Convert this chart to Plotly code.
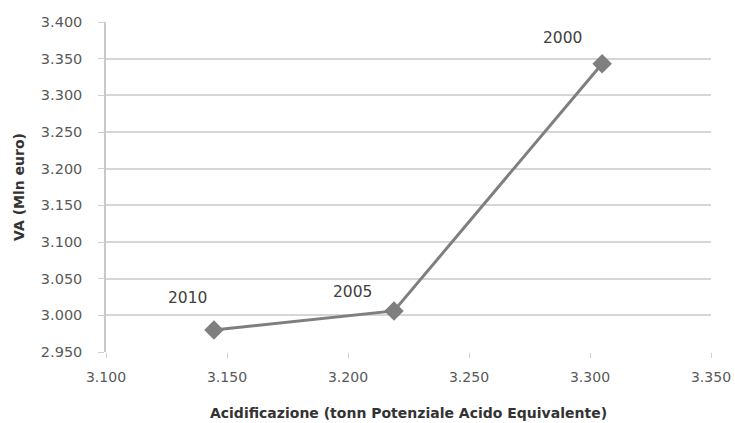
import plotly.graph_objects as go

# dati
anni = ["2010", "2005", "2000"]
acidificazione = [3144.6, 3219, 3305]
va_mln_euro = [2980, 3006, 3343]

x_ticks = [3100, 3150, 3200, 3250, 3300, 3350]
y_ticks = [2950, 3000, 3050, 3100, 3150, 3200, 3250, 3300, 3350, 3400]

# spostamento etichette (pixel)
label_shift = [(-26, 32), (-41, 19), (-40, 26)]

fig = go.Figure()
fig.add_trace(
    go.Scatter(
        x=acidificazione,
        y=va_mln_euro,
        mode="lines+markers",
        line=dict(color="#7f7f7f", width=3),
        marker=dict(symbol="diamond", size=15, color="#7f7f7f"),
        hoverinfo="x+y",
    )
)

for anno, xv, yv, (dx, dy) in zip(anni, acidificazione, va_mln_euro, label_shift):
    fig.add_annotation(
        x=xv, y=yv, text=anno, showarrow=False,
        xshift=dx, yshift=dy,
        font=dict(size=15.5, color="#404040"),
    )

font_fam = "DejaVu Sans, sans-serif"
fig.update_layout(
    width=735,
    height=423,
    margin=dict(l=106, r=24, t=22, b=71),
    paper_bgcolor="white",
    plot_bgcolor="white",
    showlegend=False,
    separators=",.",
    font=dict(family=font_fam),
    xaxis=dict(
        range=[3100, 3350],
        tickvals=x_ticks,
        tickformat=",.0f",
        showgrid=False,
        zeroline=False,
        automargin=False,
        ticklabeloverflow="allow",
        ticks="outside",
        ticklen=5,
        tickcolor="#d0d0d0",
        tickfont=dict(family=font_fam, size=14, color="#595959"),
        ticklabelstandoff=7,
        title=dict(
            text="<b>Acidificazione (tonn Potenziale Acido Equivalente)</b>",
            font=dict(size=14, color="#333333"),
            standoff=24,
        ),
    ),
    yaxis=dict(
        range=[2950, 3400],
        tickvals=y_ticks,
        tickformat=",.0f",
        showgrid=True,
        gridcolor="#d6d6d6",
        gridwidth=1.5,
        zeroline=False,
        automargin=False,
        showline=True,
        linecolor="#c8c8c8",
        linewidth=1.5,
        ticks="outside",
        ticklen=6,
        tickcolor="#d0d0d0",
        tickfont=dict(family=font_fam, size=14.5, color="#595959"),
        ticklabelstandoff=13,
        title=dict(
            text="<b>VA (Mln euro)</b>",
            font=dict(size=14, color="#333333"),
            standoff=13,
        ),
    ),
)

# togliere il margine di default della pagina
fig.write_html(
    "out.html",
    config={"displayModeBar": False},
    post_script="document.body.style.margin = '0';",
)
